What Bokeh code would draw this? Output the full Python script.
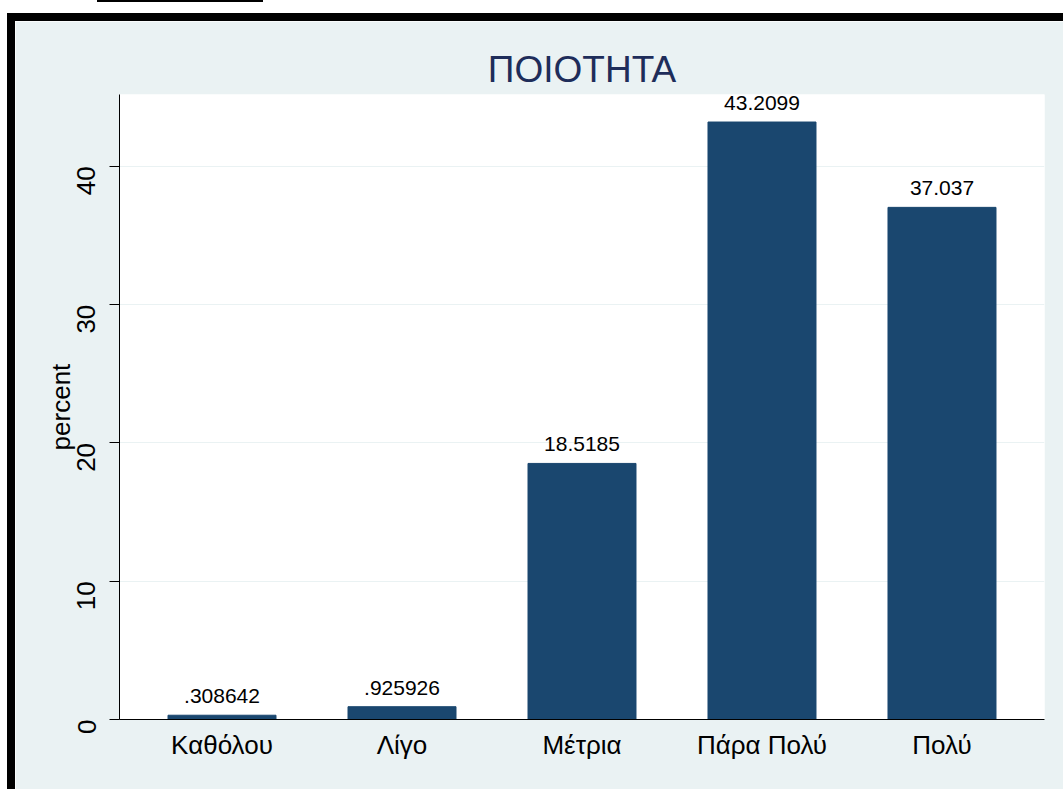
import math
from bokeh.plotting import figure
from bokeh.models import FactorRange, Range1d, ColumnDataSource, InlineStyleSheet
from bokeh.core.properties import value
from bokeh.embed import file_html
from bokeh.resources import INLINE

categories = ["Καθόλου", "Λίγο", "Μέτρια", "Πάρα Πολύ", "Πολύ"]
percents = [0.308642, 0.925926, 18.5185, 43.2099, 37.037]
bar_labels = [".308642", ".925926", "18.5185", "43.2099", "37.037"]
y_ticks = [0, 10, 20, 30, 40]

FONT = "Liberation Sans"
BG = "#eaf2f3"
BAR = "#1a476f"

src = ColumnDataSource(dict(cat=categories, pct=percents, lab=bar_labels))

p = figure(
    x_range=FactorRange(*categories, range_padding=0.0695, range_padding_units="absolute"),
    y_range=Range1d(0, 45.2),
    width=1056, height=776,
    output_backend="svg", toolbar_location=None,
    title="ΠΟΙΟΤΗΤΑ",
    min_border_left=104, min_border_right=27,
    min_border_top=73, min_border_bottom=78,
)
p.styles = {
    "margin-top": "13px",
    "margin-left": "7px",
    "border-top": "8px solid black",
    "border-left": "8px solid black",
}
p.stylesheets = [InlineStyleSheet(css=":host{position:relative;} :host::before{content:'';position:absolute;left:82px;top:-21px;width:166px;height:2px;background:#000;}")]

p.background_fill_color = "white"
p.border_fill_color = BG
p.outline_line_color = None

p.vbar(x="cat", top="pct", width=0.6, source=src, fill_color=BAR, line_color=BAR)
p.text(x="cat", y="pct", text="lab", source=src, text_align="center",
       text_baseline="bottom", y_offset=-12, text_font=value(FONT),
       text_font_size="21px", text_color="black")

p.title.align = "center"
p.title.text_font = FONT
p.title.text_font_size = "37px"
p.title.text_font_style = "normal"
p.title.text_color = "#1e2d5a"
p.title.standoff = 9

p.xgrid.grid_line_color = None
p.ygrid.grid_line_color = BG
p.ygrid.grid_line_width = 1

p.yaxis.ticker = y_ticks
p.yaxis.major_tick_out = 10
p.yaxis.major_tick_in = 0
p.yaxis.minor_tick_line_color = None
p.yaxis.major_label_orientation = math.pi / 2
p.yaxis.major_label_text_font = FONT
p.yaxis.major_label_text_font_size = "26px"
p.yaxis.major_label_text_color = "black"
p.yaxis.major_label_standoff = 23
p.yaxis.axis_label = "percent"
p.yaxis.axis_label_text_font = FONT
p.yaxis.axis_label_text_font_size = "26px"
p.yaxis.axis_label_text_font_style = "normal"
p.yaxis.axis_label_text_color = "black"
p.yaxis.axis_label_standoff = -10
p.yaxis.axis_line_color = "black"
p.yaxis.major_tick_line_color = "black"

p.xaxis.major_tick_line_color = None
p.xaxis.minor_tick_line_color = None
p.xaxis.major_label_text_font = FONT
p.xaxis.major_label_text_font_size = "26px"
p.xaxis.major_label_text_color = "black"
p.xaxis.major_label_standoff = 4
p.xaxis.axis_line_color = "black"

open("out.html", "w").write(file_html(p, INLINE))
